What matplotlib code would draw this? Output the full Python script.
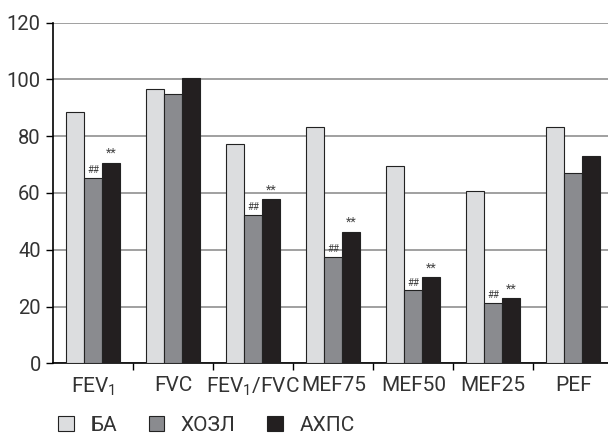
import matplotlib
matplotlib.use('Agg')
import matplotlib.pyplot as plt
import numpy as np
from matplotlib.patches import Patch

# Данные
categories = ['FEV$_1$', 'FVC', 'FEV$_1$/FVC', 'MEF75', 'MEF50', 'MEF25', 'PEF']
series_names = ['БА', 'ХОЗЛ', 'АХПС']
ba = [88.4, 96.7, 77.3, 83.4, 69.6, 60.6, 83.1]
hozl = [65.3, 94.8, 52.4, 37.4, 25.7, 21.2, 67.1]
ahps = [70.6, 100.5, 57.8, 46.3, 30.4, 23.0, 72.9]
# метки значимости над столбцами ХОЗЛ (##) и АХПС (**)
marks_hozl = ['##', '', '##', '##', '##', '##', '']
marks_ahps = ['**', '', '**', '**', '**', '**', '']

colors = ['#dcdddf', '#8a8b8f', '#231f20']
txt = '#333333'

plt.rcParams['font.family'] = ['Roboto', 'DejaVu Sans']
plt.rcParams['mathtext.default'] = 'regular'

fig = plt.figure(figsize=(6.08, 4.34), dpi=100)
ax = fig.add_axes([53.3 / 608, 70.7 / 434, 560 / 608, 340.6 / 434])

x = np.arange(len(categories))
w = 0.226
for i, (vals, c) in enumerate(zip([ba, hozl, ahps], colors)):
    ax.bar(x + (i - 1) * w, vals, w, color=c, edgecolor='#222222', linewidth=0.8, zorder=3)

for xi, (m1, m2) in enumerate(zip(marks_hozl, marks_ahps)):
    if m1:
        ax.text(xi, hozl[xi] + 1.0, m1, ha='center', va='bottom', fontsize=7, color='#444444')
    if m2:
        ax.text(xi + w, ahps[xi] + 1.0, m2, ha='center', va='bottom', fontsize=9, color='#444444')

ax.set_ylim(0, 120)
ax.set_xlim(-0.5, 6.5)
ax.set_yticks(range(0, 121, 20))
ax.yaxis.grid(True, color='#999999', linewidth=1.3, zorder=0)
ax.set_axisbelow(True)
ax.tick_params(axis='y', labelsize=14.5, length=5, width=1, pad=4, labelcolor=txt)

# подписи категорий и засечки между группами
ax.set_xticks(np.arange(0.5, 6.5, 1))
ax.set_xticklabels([])
ax.tick_params(axis='x', length=5, width=1)
for xi, cat in enumerate(categories):
    ax.text(xi, -4.3, cat, ha='center', va='top', fontsize=15, color=txt)

ax.spines['top'].set_visible(False)
ax.spines['right'].set_visible(False)
ax.spines['left'].set_linewidth(1.2)
ax.spines['bottom'].set_linewidth(1.2)

handles = [Patch(facecolor=c, edgecolor='#222222', linewidth=0.8) for c in colors]
leg = fig.legend(handles, series_names, loc='lower left', bbox_to_anchor=(50 / 608, -9 / 434),
                 ncol=3, frameon=False, fontsize=15, handlelength=0.75, handleheight=0.75,
                 handletextpad=0.8, columnspacing=1.5, borderaxespad=0)
for t in leg.get_texts():
    t.set_color(txt)

fig.savefig('out.png', dpi=100)
